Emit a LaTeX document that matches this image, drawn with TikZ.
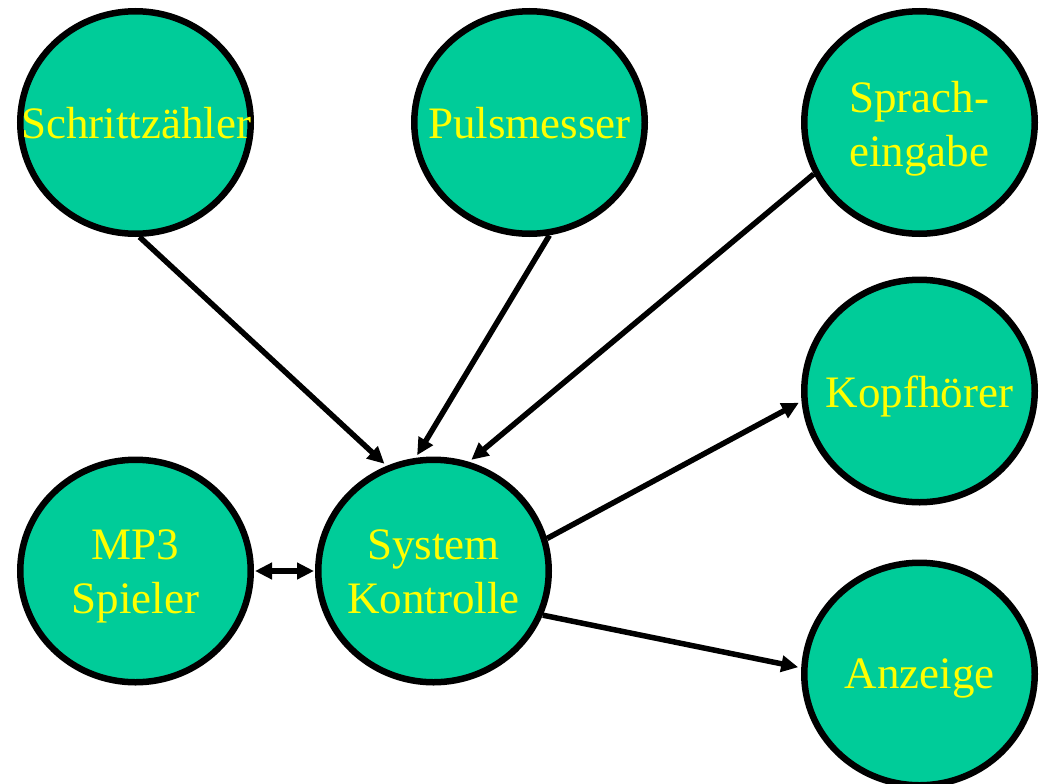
\documentclass[tikz,border=0pt]{standalone}
\usepackage{fontspec}
\setmainfont{Liberation Serif}
\usetikzlibrary{arrows.meta,shapes.geometric}
\definecolor{bubblefill}{RGB}{0,204,153}
\definecolor{labelyellow}{RGB}{255,255,0}
\begin{document}
\begin{tikzpicture}[x=1pt,y=-1pt,
  bubble/.style={ellipse, draw=black, line width=6.5pt, fill=bubblefill,
    minimum width=230.5pt, minimum height=222.5pt, inner sep=0pt},
  caption/.style={text=labelyellow, font=\fontsize{45}{54}\selectfont,
    inner sep=0pt, align=center},
  tip/.tip={Triangle[length=17pt,width=16pt]},
  link/.style={line width=5.5pt, -tip, shorten >=3pt},
  duplex/.style={line width=5.5pt, tip-tip, shorten >=1pt, shorten <=1pt}]

  % page area
  \fill[white] (0,0) rectangle (1041,784);
  \useasboundingbox (0,0) rectangle (1041,784);

  % components
  \node[bubble] (schritt) at (135.5,122.5) {};
  \node[bubble] (puls)    at (529.5,122.5) {};
  \node[bubble] (sprach)  at (919.5,122.5) {};
  \node[bubble] (kopf)    at (919.5,391)   {};
  \node[bubble] (anz)     at (919.5,674)   {};
  \node[bubble] (mp3)     at (135.5,571)   {};
  \node[bubble] (sys)     at (433.5,571)   {};

  % captions
  \node[caption, anchor=base]  (schrittlabel) at (136,138)    {Schrittzähler};
  \node[caption, anchor=base]  (pulslabel)    at (529.5,138)  {Pulsmesser};
  \node[caption, anchor=north] (sprachlabel)  at (919,81.3)   {Sprach-\\eingabe};
  \node[caption, anchor=base]  (kopflabel)    at (919.5,407)  {Kopfhörer};
  \node[caption, anchor=base]  (anzlabel)     at (919.5,688.5){Anzeige};
  \node[caption, anchor=north] (mp3label)     at (135.5,529.6){MP3\\Spieler};
  \node[caption, anchor=north] (syslabel)     at (433.5,529.6){System\\Kontrolle};

  % data flow
  \draw[link] (schritt.-88) -- (sys.114.6);
  \draw[link] (puls.-80.3) -- (sys.99.3);
  \draw[link] (sprach.206) -- (sys.72.9);
  \draw[link] (sys.16.3) -- (kopf.185.7);
  \draw[link] (sys.-22.8) -- (anz.177.1);
  \draw[duplex] (mp3) -- (sys);
\end{tikzpicture}
\end{document}
